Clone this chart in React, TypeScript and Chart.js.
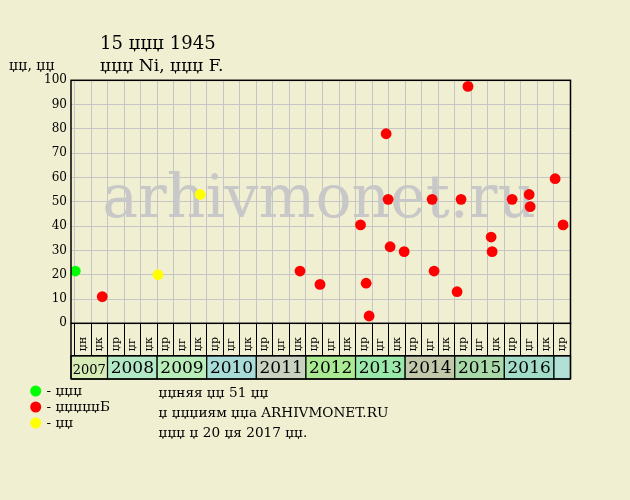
import React, { useEffect, useRef } from "react";
import { Chart, registerables } from "chart.js";

Chart.register(...registerables);

const FONT = '"DejaVu Serif", serif';
const BG = "#f0efd1";
const GRID = "#c6c6c6";

// ---- texts ----
const title = "15 џџџ 1945";
const subtitle = "џџџ Ni, џџџ F.";
const yUnit = "џџ, џџ";
const watermark = "arhivmonet.ru";
const infoLines = ["џџняя џџ 51 џџ", "џ џџџиям џџа ARHIVMONET.RU", "џџџ џ 20 џя 2017 џџ."];

// ---- x axis: 4-month periods ----
const periodLabels = [
  "џн", "џк",
  "џр", "џг", "џк",
  "џр", "џг", "џк",
  "џр", "џг", "џк",
  "џр", "џг", "џк",
  "џр", "џг", "џк",
  "џр", "џг", "џк",
  "џр", "џг", "џк",
  "џр", "џг", "џк",
  "џр", "џг", "џк",
  "џр",
];
const years = ["2007", "2008", "2009", "2010", "2011", "2012", "2013", "2014", "2015", "2016", ""];
const yearPeriods = [2, 3, 3, 3, 3, 3, 3, 3, 3, 3, 1];
const yearColors = [
  "#d6ebb6", "#b2e8c6", "#b8ecb8", "#a9dcd9", "#c9d1c1", "#a9ea92",
  "#9be9aa", "#c2c9aa", "#a9d9a9", "#a2dcc9", "#b2e0d6",
];

// ---- y axis ----
const yMin = 0;
const yMax = 100;
const yStep = 10;

// ---- series (x in period units, y = price) ----
const conditionNames = ["џџџ", "џџџџџБ", "џџ"];
const conditionColors = ["#00ff00", "#ff0000", "#ffff00"];

const greenX = [0.05];
const greenY = [21.5];

const redX = [1.68, 13.64, 14.85, 17.3, 17.64, 17.82, 18.85, 18.97, 19.09, 19.94, 21.63, 21.75, 23.14, 23.38, 23.8, 25.2, 25.26, 26.47, 27.5, 27.56, 29.07, 29.55];
const redY = [11, 21.5, 16, 40.5, 16.5, 3, 78, 51, 31.5, 29.5, 51, 21.5, 13, 51, 97.5, 35.5, 29.5, 51, 53, 48, 59.5, 40.5];

const yellowX = [5.05, 7.6];
const yellowY = [20, 53];

const toPoints = (xs: number[], ys: number[]) => xs.map((x, i) => ({ x, y: ys[i] }));

const LABEL_ROW = 32.4;
const YEAR_ROW = 23.3;

const decorPlugin = {
  id: "decor",
  beforeDraw(chart: any) {
    const { ctx, width, height } = chart;
    ctx.save();
    ctx.fillStyle = BG;
    ctx.fillRect(0, 0, width, height);
    ctx.restore();
  },
  beforeDatasetsDraw(chart: any) {
    const { ctx, chartArea: ca } = chart;
    ctx.save();
    ctx.font = `60px ${FONT}`;
    ctx.fillStyle = "#c8c8c8";
    ctx.textAlign = "center";
    ctx.textBaseline = "alphabetic";
    ctx.fillText(watermark, (ca.left + ca.right) / 2 - 1.5, ca.top + 136.4);
    ctx.restore();
  },
  afterDraw(chart: any) {
    const { ctx, chartArea: ca } = chart;
    const xs = chart.scales.x;
    const rowMid = ca.bottom + LABEL_ROW;
    const rowBot = rowMid + YEAR_ROW;
    ctx.save();

    // period labels (rotated)
    ctx.fillStyle = "#000";
    ctx.font = `11px ${FONT}`;
    periodLabels.forEach((lab, k) => {
      const cx = (xs.getPixelForValue(k) + xs.getPixelForValue(k + 1)) / 2;
      ctx.save();
      ctx.translate(cx, rowMid - 4.5);
      ctx.rotate(-Math.PI / 2);
      ctx.textAlign = "left";
      ctx.textBaseline = "middle";
      ctx.fillText(lab, 0, 0);
      ctx.restore();
    });

    // year boxes
    let start = 0;
    ctx.lineWidth = 1.2;
    ctx.strokeStyle = "#000";
    years.forEach((y, i) => {
      const x0 = i === 0 ? ca.left : xs.getPixelForValue(start);
      const x1 = xs.getPixelForValue(start + yearPeriods[i]);
      start += yearPeriods[i];
      ctx.fillStyle = yearColors[i];
      ctx.fillRect(x0, rowMid, x1 - x0, YEAR_ROW);
      ctx.strokeRect(x0, rowMid, x1 - x0, YEAR_ROW);
      if (y) {
        ctx.fillStyle = "#000";
        ctx.font = `${i === 0 ? 13 : 17}px ${FONT}`;
        ctx.textAlign = "center";
        ctx.textBaseline = "alphabetic";
        ctx.fillText(y, (x0 + x1) / 2, rowBot - (i === 0 ? 5 : 5.7));
      }
    });

    // frame
    ctx.lineWidth = 1.5;
    ctx.strokeStyle = "#000";
    ctx.strokeRect(ca.left, ca.top, ca.right - ca.left, ca.bottom - ca.top);
    ctx.beginPath();
    ctx.moveTo(ca.left, ca.bottom);
    ctx.lineTo(ca.left, rowBot);
    ctx.moveTo(ca.right, ca.bottom);
    ctx.lineTo(ca.right, rowBot);
    ctx.moveTo(ca.left, rowMid);
    ctx.lineTo(ca.right, rowMid);
    ctx.moveTo(ca.left, rowBot);
    ctx.lineTo(ca.right, rowBot);
    ctx.stroke();

    // titles
    ctx.fillStyle = "#000";
    ctx.textAlign = "left";
    ctx.textBaseline = "alphabetic";
    ctx.font = `18px ${FONT}`;
    ctx.fillText(title, 100, 49);
    ctx.font = `17px ${FONT}`;
    ctx.fillText(subtitle, 100, 71);
    ctx.font = `14px ${FONT}`;
    ctx.fillText(yUnit, 9, 69.5);

    // legend
    const legY = [391, 407, 423];
    conditionNames.forEach((n, i) => {
      ctx.fillStyle = conditionColors[i];
      ctx.beginPath();
      ctx.arc(35.7, legY[i], 5.5, 0, Math.PI * 2);
      ctx.fill();
      ctx.fillStyle = "#000";
      ctx.font = `13.6px ${FONT}`;
      ctx.fillText("- " + n, 46.5, legY[i] + 4);
    });

    // info
    ctx.font = `13.6px ${FONT}`;
    const infoY = [397, 416.5, 437];
    infoLines.forEach((t, i) => {
      ctx.fillText(t, 158.5, infoY[i]);
    });

    ctx.restore();
  },
};

export default function App() {
  const ref = useRef<HTMLCanvasElement | null>(null);
  useEffect(() => {
    if (!ref.current) return;
    const chart = new Chart(ref.current, {
      type: "scatter",
      data: {
        datasets: [
          { label: conditionNames[0], data: toPoints(greenX, greenY), backgroundColor: conditionColors[0], borderWidth: 0, pointRadius: 5.4 },
          { label: conditionNames[1], data: toPoints(redX, redY), backgroundColor: conditionColors[1], borderWidth: 0, pointRadius: 5.4 },
          { label: conditionNames[2], data: toPoints(yellowX, yellowY), backgroundColor: conditionColors[2], borderWidth: 0, pointRadius: 5.4 },
        ],
      },
      options: {
        animation: false,
        responsive: false,
        events: [],
        layout: { padding: { top: 80.3, left: 0, right: 59.5, bottom: 0 } },
        plugins: { legend: { display: false }, tooltip: { enabled: false }, title: { display: false } },
        scales: {
          x: {
            type: "linear",
            min: -0.21,
            max: 30,
            afterFit: (s: any) => { s.height = 176.7; },
            ticks: { stepSize: 1, display: false, includeBounds: false },
            grid: { color: GRID, tickColor: "#000", tickLength: LABEL_ROW, drawTicks: true, lineWidth: 1 },
            border: { display: false },
          },
          y: {
            min: yMin,
            max: yMax,
            afterFit: (s: any) => { s.width = 71; },
            ticks: { stepSize: yStep, color: "#000", font: { family: "DejaVu Serif", size: 12 }, padding: 4 },
            grid: { color: GRID, drawTicks: false, lineWidth: 1 },
            border: { display: false },
          },
        },
      },
      plugins: [decorPlugin],
    } as any);
    return () => chart.destroy();
  }, []);
  return (
    <div style={{ position: "absolute", left: 0, top: 0, width: 630, height: 500, background: BG }}>
      <canvas ref={ref} width={630} height={500} style={{ width: 630, height: 500, display: "block" }} />
    </div>
  );
}
